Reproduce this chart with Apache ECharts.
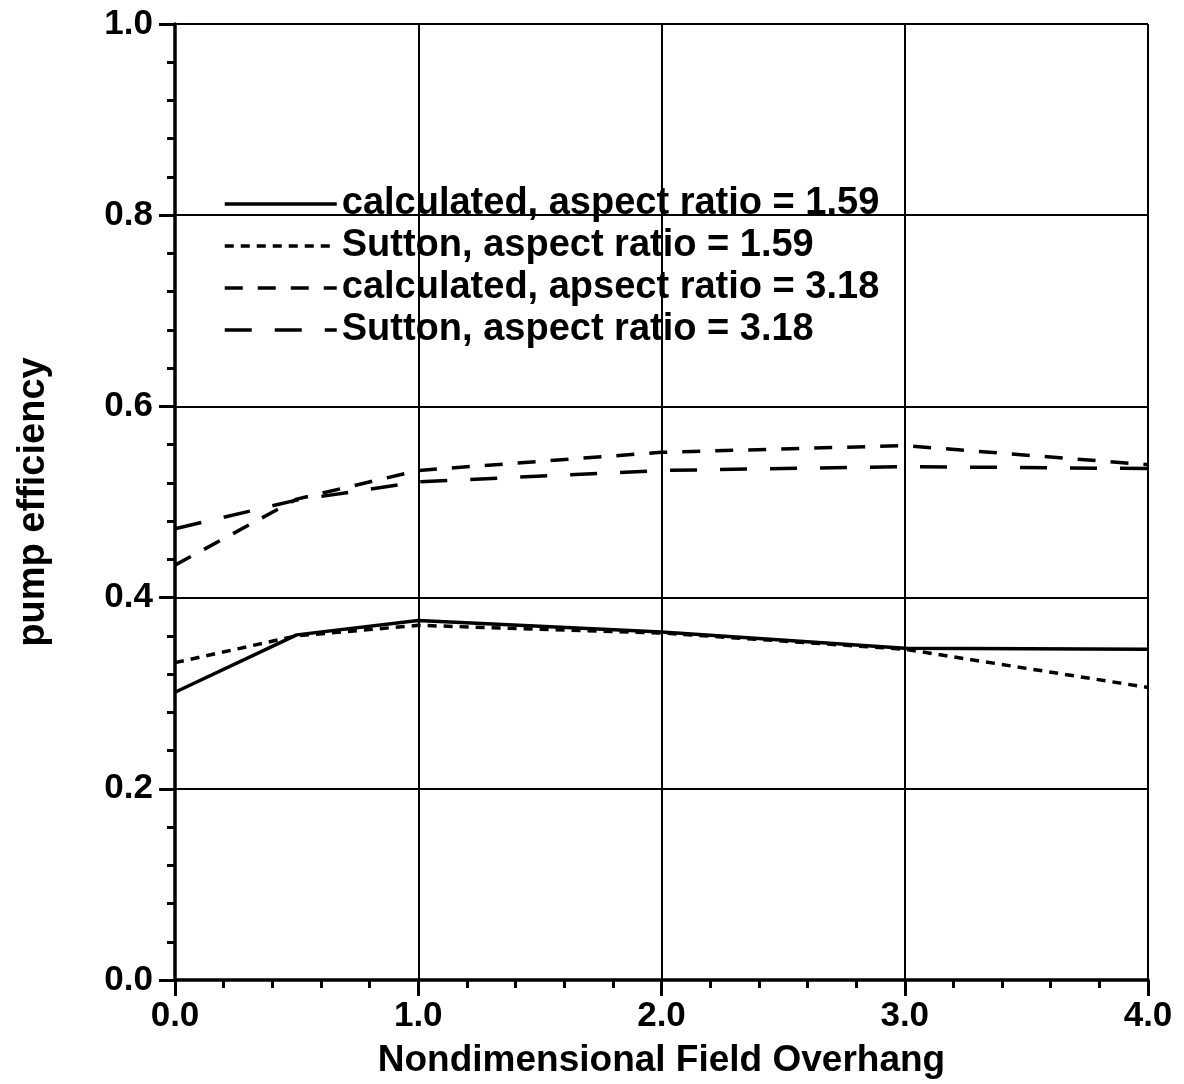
<!DOCTYPE html>
<html>
<head>
<meta charset="utf-8">
<script src="https://cdn.jsdelivr.net/npm/echarts@6/dist/echarts.min.js"></script>
<style>
  html, body { margin: 0; padding: 0; background: #fff; }
  #chart { width: 1184px; height: 1084px; }
</style>
</head>
<body>
<div id="chart"></div>
<script>
// 数据
const overhang = [0, 0.5, 1, 2, 3, 4];
const calc159 = [0.301, 0.361, 0.376, 0.364, 0.347, 0.346];
const sutton159 = [0.332, 0.360, 0.371, 0.363, 0.346, 0.306];
const calc318 = [0.434, 0.503, 0.533, 0.552, 0.559, 0.539];
const sutton318 = [0.472, 0.502, 0.521, 0.533, 0.537, 0.535];
const seriesNames = [
    'calculated, aspect ratio = 1.59',
    'Sutton, aspect ratio = 1.59',
    'calculated, apsect ratio = 3.18',
    'Sutton, aspect ratio = 3.18'
];

const FONT = '"Liberation Sans", Arial, Helvetica, sans-serif';

function pairs(ys) {
    return overhang.map((x, i) => [x, ys[i]]);
}

function makeLine(name, ys, dash) {
    return {
        name: name,
        type: 'line',
        data: pairs(ys),
        symbol: 'none',
        lineStyle: { color: '#000', width: 3.5, type: dash },
        itemStyle: { color: '#000' }
    };
}

const chart = echarts.init(document.getElementById('chart'));

const option = {
    animation: false,
    backgroundColor: '#fff',
    grid: { left: 175, right: 36, top: 24, bottom: 104 },
    legend: {
        orient: 'vertical',
        left: 223,
        top: 183,
        padding: 0,
        itemWidth: 112,
        itemHeight: 14,
        itemGap: 0,
        // 图例里只要线，不要圆点
        itemStyle: { color: 'rgba(0,0,0,0)', borderColor: 'rgba(0,0,0,0)', borderWidth: 0 },
        lineStyle: { width: 3.5, color: '#000' },
        textStyle: {
            fontFamily: FONT,
            fontWeight: 'bold',
            fontSize: 38,
            lineHeight: 42,
            color: '#000'
        },
        data: seriesNames
    },
    xAxis: {
        type: 'value',
        min: 0,
        max: 4,
        interval: 1,
        name: 'Nondimensional Field Overhang',
        nameLocation: 'middle',
        nameGap: 62,
        nameTextStyle: { fontFamily: FONT, fontWeight: 'bold', fontSize: 37, color: '#000' },
        axisLine: { lineStyle: { color: '#000', width: 3.5 } },
        axisTick: { show: true, length: 16, lineStyle: { color: '#000', width: 3 } },
        minorTick: { show: true, splitNumber: 5, length: 8, lineStyle: { color: '#000', width: 3 } },
        splitLine: { show: true, lineStyle: { color: '#000', width: 2 } },
        axisLabel: {
            margin: 19,
            fontFamily: FONT, fontWeight: 'bold', fontSize: 35, color: '#000',
            formatter: v => v.toFixed(1)
        }
    },
    yAxis: {
        type: 'value',
        min: 0,
        max: 1,
        interval: 0.2,
        name: 'pump efficiency',
        nameLocation: 'middle',
        nameRotate: 90,
        nameGap: 122,
        nameTextStyle: { fontFamily: FONT, fontWeight: 'bold', fontSize: 38, color: '#000' },
        axisLine: { show: true, lineStyle: { color: '#000', width: 3.5 } },
        axisTick: { show: true, length: 16, lineStyle: { color: '#000', width: 3 } },
        minorTick: { show: true, splitNumber: 5, length: 8, lineStyle: { color: '#000', width: 3 } },
        splitLine: { show: true, lineStyle: { color: '#000', width: 2 } },
        axisLabel: {
            margin: 22,
            fontFamily: FONT, fontWeight: 'bold', fontSize: 35, color: '#000',
            formatter: v => v.toFixed(1)
        }
    },
    series: [
        makeLine(seriesNames[0], calc159, 'solid'),
        makeLine(seriesNames[1], sutton159, [9, 7]),
        makeLine(seriesNames[2], calc318, [18, 15]),
        makeLine(seriesNames[3], sutton318, [27, 23])
    ]
};

chart.setOption(option);
</script>
</body>
</html>
